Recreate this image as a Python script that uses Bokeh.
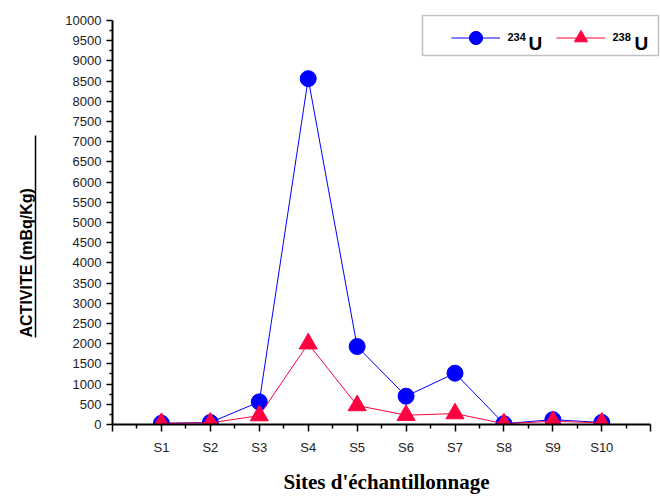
from bokeh.plotting import figure
from bokeh.models import (FixedTicker, Label, BoxAnnotation, Legend, LegendItem,
                          Range1d, LinearAxis, Title)
from bokeh.embed import file_html
from bokeh.resources import INLINE

sites = ["S1", "S2", "S3", "S4", "S5", "S6", "S7", "S8", "S9", "S10"]
x_pos = [1, 2, 3, 4, 5, 6, 7, 8, 9, 10]
u234 = [30, 50, 560, 8560, 1930, 700, 1270, 20, 120, 50]
u238 = [30, 40, 220, 2000, 470, 230, 270, 20, 80, 40]
y_ticks = list(range(0, 10001, 500))
y_minor = list(range(250, 10000, 500))

BLUE = "#0000FF"
RED = "#FF0040"

p = figure(width=660, height=496, output_backend="svg", toolbar_location=None,
           x_range=Range1d(0, 11.2), y_range=Range1d(0, 10148),
           min_border_left=112, min_border_right=0, min_border_top=14, min_border_bottom=72)
p.outline_line_color = None
p.grid.visible = False
p.background_fill_color = "white"
p.border_fill_color = "white"
p.extra_y_ranges = {"ul": Range1d(0, 10148)}

# axes
for ax in (p.xaxis[0], p.yaxis[0]):
    ax.axis_line_color = "black"
    ax.axis_line_width = 2
    ax.major_tick_line_color = "black"
    ax.major_tick_line_width = 1.5
    ax.minor_tick_line_color = "black"
    ax.minor_tick_line_width = 1.5
    ax.major_tick_in = 0
    ax.minor_tick_in = 0
    ax.major_label_text_font = "Liberation Sans"
    ax.major_label_text_font_size = "13px"
    ax.major_label_text_color = "#222222"

p.xaxis.bounds = (0, 11)
p.xaxis.ticker = FixedTicker(ticks=list(range(0, 12)),
                             minor_ticks=[i + 0.5 for i in range(0, 11)])
p.xaxis.major_label_overrides = {0: "", 11: "", **{x: s for x, s in zip(x_pos, sites)}}
p.xaxis.major_tick_out = 7
p.xaxis.minor_tick_out = 4
p.xaxis.major_label_standoff = 8
p.xaxis.axis_label = "Sites d'échantillonnage"
p.xaxis.axis_label_text_font = "Liberation Serif"
p.xaxis.axis_label_text_font_style = "bold"
p.xaxis.axis_label_text_font_size = "21px"
p.xaxis.axis_label_text_color = "black"
p.xaxis.axis_label_standoff = 12

p.yaxis.bounds = (0, 10000)
p.yaxis.ticker = FixedTicker(ticks=y_ticks, minor_ticks=y_minor)
p.yaxis.major_tick_out = 6
p.yaxis.minor_tick_out = 3
p.yaxis.major_label_standoff = 5
# spacer label between tick labels and the underlined title
p.yaxis.axis_label = " "
p.yaxis.axis_label_text_font_size = "14px"
p.yaxis.axis_label_standoff = 8

# underline of the y title (an axis line only)
ul = LinearAxis(y_range_name="ul", bounds=(2150, 7150),
                ticker=FixedTicker(ticks=[]), major_tick_out=0, minor_tick_out=0,
                major_label_standoff=0, major_label_text_font_size="0px",
                axis_line_color="black", axis_line_width=1.5)
p.add_layout(ul, "left")
# y title
p.add_layout(Title(text="ACTIVITE (mBq/Kg)", align="left", offset=87, standoff=1,
                   text_font="Liberation Sans", text_font_style="bold",
                   text_font_size="16px", text_color="black"), "left")

# series
l1 = p.line(x_pos, u234, line_color=BLUE, line_width=1)
m1 = p.scatter(x_pos, u234, marker="circle", size=16, fill_color=BLUE, line_color=BLUE)
l2 = p.line(x_pos, u238, line_color=RED, line_width=1)
m2 = p.scatter(x_pos, u238, marker="triangle", size=18, fill_color=RED, line_color=RED)

# legend (frame-relative screen units: frame left=112, bottom=424)
p.add_layout(BoxAnnotation(left=310, right=546, bottom=369, top=409,
                           left_units="screen", right_units="screen",
                           bottom_units="screen", top_units="screen",
                           fill_color="white", fill_alpha=0.0,
                           line_color="#333333", line_width=1.5))
leg = Legend(items=[LegendItem(label=" ", renderers=[l1, m1]),
                    LegendItem(label=" ", renderers=[l2, m2])],
             location=(339, 370), orientation="horizontal",
             glyph_width=49, glyph_height=33, label_width=50, label_height=33,
             label_standoff=0, spacing=6, padding=0, margin=0,
             border_line_alpha=0, background_fill_alpha=0, label_text_font_size="8px")
p.add_layout(leg)

for txt, sx, sy, size in [("234", 395, 388, "11px"), ("U", 416, 381, "19px"),
                          ("238", 500, 388, "11px"), ("U", 522, 381, "19px")]:
    p.add_layout(Label(x=sx, y=sy, x_units="screen", y_units="screen", text=txt,
                       text_font="Liberation Sans", text_font_style="bold",
                       text_font_size=size, text_color="black",
                       text_baseline="alphabetic"))

open("out.html", "w").write(file_html(p, INLINE))
